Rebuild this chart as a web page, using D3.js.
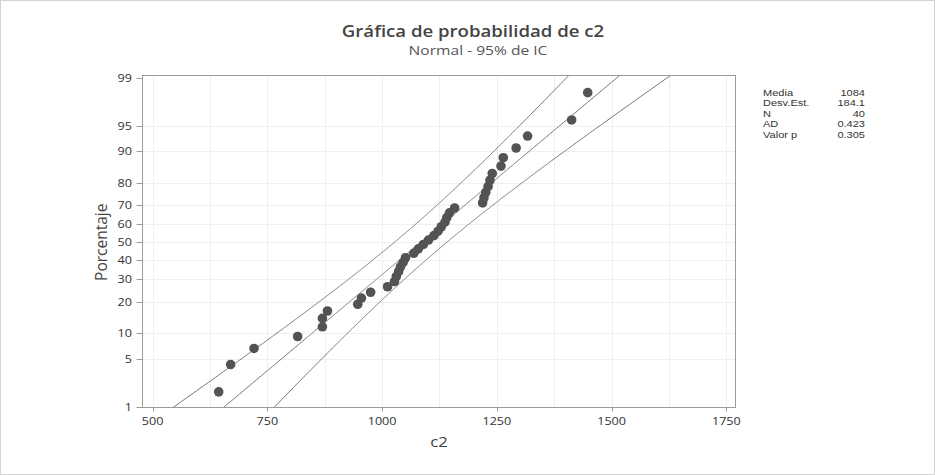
<!DOCTYPE html>
<html>
<head>
<meta charset="utf-8">
<script src="https://cdn.jsdelivr.net/npm/d3@7"></script>
<style>
  body { margin: 0; background: #fff; }
  svg text { font-family: "Open Sans", "Noto Sans", sans-serif; }
</style>
</head>
<body>
<div id="chart-container"></div>
<script>
// sorted sample values of c2
const c2Values = [644, 670, 721, 816, 870, 870, 881, 947, 955, 975,
                  1012, 1027, 1031, 1036, 1040, 1046, 1051, 1069, 1079, 1090,
                  1101, 1113, 1122, 1129, 1137, 1141, 1147, 1158, 1219, 1222,
                  1226, 1231, 1235, 1240, 1259, 1264, 1292, 1317, 1413, 1448];

// summary table on the right
const statLabels = ['Media', 'Desv.Est.', 'N', 'AD', 'Valor p'];
const statValues = ['1084', '184.1', '40', '0.423', '0.305'];

// fitted normal
const fitMean = 1084;
const fitSd = 184.1;
const fitN = 40;

// tick labels
const xTicks = [500, 750, 1000, 1250, 1500, 1750];
const xGrid = [500, 625, 750, 875, 1000, 1125, 1250, 1375, 1500, 1625, 1750];
const yTicks = [1, 5, 10, 20, 30, 40, 50, 60, 70, 80, 90, 95, 99];

// the original graph was stretched sideways, so is its text
const SX = 1.2;

// inverse standard normal cdf (Acklam)
function qnorm(p) {
    const a = [-3.969683028665376e+01, 2.209460984245205e+02, -2.759285104469687e+02,
               1.383577518672690e+02, -3.066479806614716e+01, 2.506628277459239e+00];
    const b = [-5.447609879822406e+01, 1.615858368580409e+02, -1.556989798598866e+02,
               6.680131188771972e+01, -1.328068155288572e+01];
    const c = [-7.784894002430293e-03, -3.223964580411365e-01, -2.400758277161838e+00,
               -2.549732539343734e+00, 4.374664141464968e+00, 2.938163982698783e+00];
    const d = [7.784695709041462e-03, 3.224671290700398e-01, 2.445134137142996e+00,
               3.754408661907416e+00];
    const pl = 0.02425;
    let q, r;
    if (p < pl) {
        q = Math.sqrt(-2 * Math.log(p));
        return (((((c[0]*q+c[1])*q+c[2])*q+c[3])*q+c[4])*q+c[5]) /
               ((((d[0]*q+d[1])*q+d[2])*q+d[3])*q+1);
    }
    if (p > 1 - pl) {
        q = Math.sqrt(-2 * Math.log(1 - p));
        return -(((((c[0]*q+c[1])*q+c[2])*q+c[3])*q+c[4])*q+c[5]) /
                ((((d[0]*q+d[1])*q+d[2])*q+d[3])*q+1);
    }
    q = p - 0.5;
    r = q * q;
    return (((((a[0]*r+a[1])*r+a[2])*r+a[3])*r+a[4])*r+a[5])*q /
           (((((b[0]*r+b[1])*r+b[2])*r+b[3])*r+b[4])*r+1);
}

const at = (x, y) => 'translate(' + x + ',' + y + ') scale(' + SX + ',1)';

function renderChart() {
    const width = 935;
    const height = 475;
    const plot = { left: 142.5, right: 735.5, top: 75.5, bottom: 407.5 };

    const svg = d3.select('#chart-container').append('svg')
        .attr('width', width)
        .attr('height', height);

    svg.append('rect')
        .attr('x', 0.5).attr('y', 0.5)
        .attr('width', width - 1).attr('height', height - 1)
        .attr('fill', '#fff')
        .attr('stroke', '#d4d4d4');

    const x = d3.scaleLinear().domain([478, 1770]).range([plot.left, plot.right]);
    // probability axis: linear in normal quantile
    const z = d3.scaleLinear().domain([qnorm(0.01), qnorm(0.99)]).range([407, 77.5]);
    const y = p => z(qnorm(p / 100));

    // grid
    const grid = svg.append('g').attr('stroke', '#efefef').attr('stroke-width', 1);
    grid.selectAll('line.v').data(xGrid).enter().append('line')
        .attr('x1', d => Math.round(x(d)) + 0.5).attr('x2', d => Math.round(x(d)) + 0.5)
        .attr('y1', plot.top).attr('y2', plot.bottom);
    grid.selectAll('line.h').data(yTicks.slice(1, -1)).enter().append('line')
        .attr('x1', plot.left).attr('x2', plot.right)
        .attr('y1', d => Math.round(y(d)) + 0.5).attr('y2', d => Math.round(y(d)) + 0.5);

    // clip
    svg.append('clipPath').attr('id', 'clip').append('rect')
        .attr('x', plot.left).attr('y', plot.top)
        .attr('width', plot.right - plot.left).attr('height', plot.bottom - plot.top);

    // fitted line and 95% bands
    const ps = d3.range(0.2, 99.81, 0.2);
    const zc = 1.959964;
    const half = q => zc * fitSd * Math.sqrt((1 + q * q / 2) / fitN);
    const fit = ps.map(p => { const q = qnorm(p / 100); return [fitMean + q * fitSd, p]; });
    const lower = ps.map(p => { const q = qnorm(p / 100); return [fitMean + q * fitSd - half(q), p]; });
    const upper = ps.map(p => { const q = qnorm(p / 100); return [fitMean + q * fitSd + half(q), p]; });

    const line = d3.line().x(d => x(d[0])).y(d => y(d[1]));
    const lines = svg.append('g').attr('clip-path', 'url(#clip)');
    [lower, fit, upper].forEach(s => {
        lines.append('path').attr('d', line(s))
            .attr('fill', 'none').attr('stroke', '#6a6a6a').attr('stroke-width', 0.9);
    });

    // points at median ranks
    const n = c2Values.length;
    lines.selectAll('circle').data(c2Values).enter().append('circle')
        .attr('cx', d => x(d))
        .attr('cy', (d, i) => y(100 * (i + 1 - 0.3) / (n + 0.4)))
        .attr('r', 4.8)
        .attr('fill', '#535353');

    // frame
    svg.append('rect')
        .attr('x', plot.left).attr('y', plot.top)
        .attr('width', plot.right - plot.left).attr('height', plot.bottom - plot.top)
        .attr('fill', 'none').attr('stroke', '#9a9a9a');

    // x axis
    const xa = svg.append('g');
    xa.selectAll('line').data(xTicks).enter().append('line')
        .attr('x1', d => Math.round(x(d)) + 0.5).attr('x2', d => Math.round(x(d)) + 0.5)
        .attr('y1', plot.bottom).attr('y2', plot.bottom + 4)
        .attr('stroke', '#9a9a9a');
    xa.selectAll('text').data(xTicks).enter().append('text')
        .attr('transform', d => at(x(d), 425))
        .attr('text-anchor', 'middle')
        .attr('font-size', 10.5).attr('fill', '#333')
        .text(d => d);

    // y axis
    const ya = svg.append('g');
    ya.selectAll('line').data(yTicks).enter().append('line')
        .attr('x1', plot.left - 6).attr('x2', plot.left)
        .attr('y1', d => Math.round(y(d)) + 0.5).attr('y2', d => Math.round(y(d)) + 0.5)
        .attr('stroke', '#9a9a9a');
    ya.selectAll('text').data(yTicks).enter().append('text')
        .attr('transform', d => at(132, y(d) + 4))
        .attr('text-anchor', 'end')
        .attr('font-size', 10.5).attr('fill', '#333')
        .text(d => d);

    // axis titles
    svg.append('text')
        .attr('transform', at(439, 447))
        .attr('text-anchor', 'middle')
        .attr('font-size', 14).attr('fill', '#444')
        .text('c2');
    svg.append('text')
        .attr('transform', 'translate(107,' + y(50) + ') rotate(-90)')
        .attr('text-anchor', 'middle')
        .attr('font-size', 15.5).attr('fill', '#444')
        .text('Porcentaje');

    // titles
    svg.append('text')
        .attr('transform', at(473, 36.5))
        .attr('text-anchor', 'middle')
        .attr('font-size', 15.5).attr('font-weight', 600).attr('fill', '#444')
        .text('Gráfica de probabilidad de c2');
    svg.append('text')
        .attr('transform', at(478, 55))
        .attr('text-anchor', 'middle')
        .attr('font-size', 13).attr('fill', '#555')
        .text('Normal - 95% de IC');

    // stats table (tight rows, so a font with compact line metrics)
    const tbl = svg.append('g')
        .attr('font-size', 9.2).attr('fill', '#333');
    tbl.selectAll('text.l').data(statLabels).enter().append('text')
        .attr('class', 'l')
        .attr('transform', (d, i) => at(763, 96 + i * 10.4))
        .style('font-family', '"Liberation Sans", Arial, sans-serif')
        .text(d => d);
    tbl.selectAll('text.v').data(statValues).enter().append('text')
        .attr('class', 'v')
        .attr('transform', (d, i) => at(865, 96 + i * 10.4))
        .attr('text-anchor', 'end')
        .style('font-family', '"Liberation Sans", Arial, sans-serif')
        .text(d => d);
}

renderChart();
</script>
</body>
</html>
